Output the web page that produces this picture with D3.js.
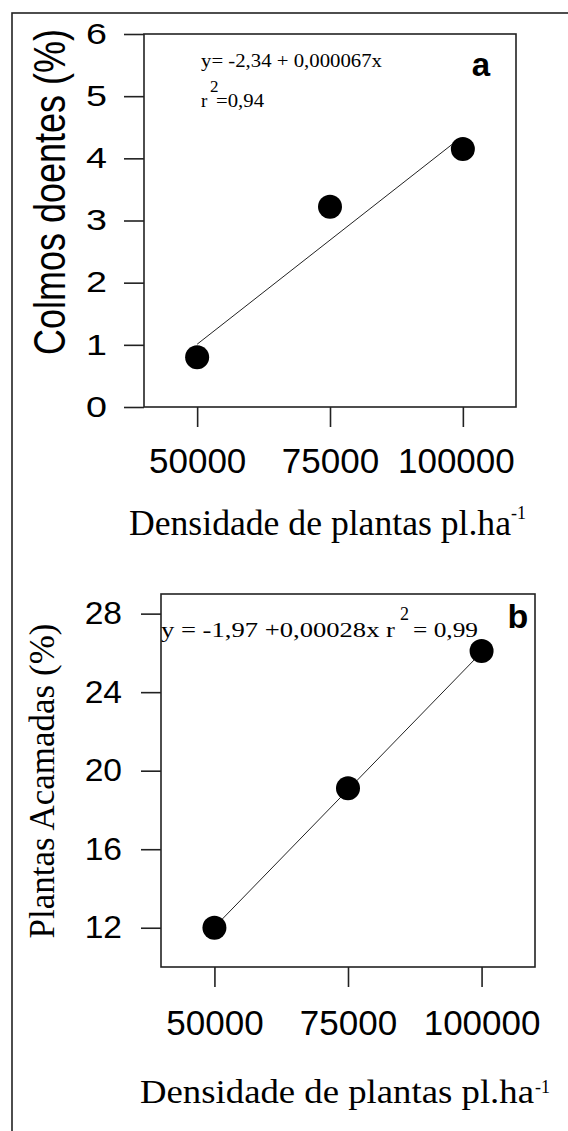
<!DOCTYPE html>
<html>
<head>
<meta charset="utf-8">
<script src="https://cdn.jsdelivr.net/npm/d3@7"></script>
<style>
  html, body { margin: 0; padding: 0; background: #fff; }
  svg { display: block; }
</style>
</head>
<body>
<script>
// ---------- data ----------
const densidade = [50000, 75000, 100000];
const colmosDoentes = [0.80, 3.22, 4.15];
const plantasAcamadas = [12.0, 19.1, 26.1];
const xTickValues = [50000, 75000, 100000];
const yTicksA = [0, 1, 2, 3, 4, 5, 6];
const yTicksB = [12, 16, 20, 24, 28];
const fitA = [-2.34, 0.000067];     // intercept, slope
const fitRangeA = [50000, 98000];
const fitB = [-1.97, 0.00028];
const fitRangeB = [50000, 100000];
const xDomain = [40000, 110000];
const yDomainA = [0, 6];
const yDomainB = [10, 29];

const W = 568, H = 1131;
const svg = d3.select("body").append("svg").attr("width", W).attr("height", H);
svg.append("rect").attr("width", W).attr("height", H).attr("fill", "#fff");

// outer frame
svg.append("rect").attr("x", 12).attr("y", 13).attr("width", 580).attr("height", 1200)
  .attr("fill", "none").attr("stroke", "#222").attr("stroke-width", 1.6);

const SANS = "'Liberation Sans', Arial, sans-serif";
const SERIF = "'Liberation Serif', 'Times New Roman', serif";

function panel(opt) {
  const x = d3.scaleLinear().domain(xDomain).range([opt.left, opt.right]);
  const y = d3.scaleLinear().domain(opt.yDomain).range([opt.bottom, opt.top]);
  const g = svg.append("g");

  // y axis
  const ya = g.append("g").attr("transform", `translate(${opt.left},0)`)
    .call(d3.axisLeft(y).tickValues(opt.yTicks).tickSize(20).tickPadding(opt.yPad).tickFormat(d3.format("d")));
  ya.select(".domain").remove();
  ya.selectAll(".tick line").attr("stroke", "#222").attr("stroke-width", 1.6);
  const sx = opt.yStretch;
  ya.selectAll(".tick text").attr("font-family", SANS).attr("font-size", opt.yFont).attr("fill", "#000")
    .attr("x", -(20 + opt.yPad) / sx).attr("transform", `scale(${sx},1)`);

  // x axis
  const xa = g.append("g").attr("transform", `translate(0,${opt.bottom})`)
    .call(d3.axisBottom(x).tickValues(xTickValues).tickSize(20).tickPadding(opt.xPad).tickFormat(d3.format("d")));
  xa.select(".domain").remove();
  xa.selectAll(".tick line").attr("stroke", "#222").attr("stroke-width", 1.6);
  xa.selectAll(".tick text").attr("font-family", SANS).attr("font-size", opt.xFont).attr("fill", "#000")
    .attr("dx", (d, i) => i === 2 ? opt.lastDx : 0);

  // box
  g.append("rect").attr("x", opt.left).attr("y", opt.top)
    .attr("width", opt.right - opt.left).attr("height", opt.bottom - opt.top)
    .attr("fill", "none").attr("stroke", "#222").attr("stroke-width", 1.6);

  // regression line
  const line = d3.line().x(d => x(d)).y(d => y(opt.fit[0] + opt.fit[1] * d));
  g.append("path").datum(opt.fitRange).attr("d", line)
    .attr("fill", "none").attr("stroke", "#222").attr("stroke-width", 1);

  // points
  g.selectAll("circle.pt").data(densidade).join("circle")
    .attr("cx", d => x(d)).attr("cy", (d, i) => y(opt.values[i])).attr("r", 12).attr("fill", "#000");
  return g;
}

// ---------- panel a ----------
const ga = panel({
  left: 144, right: 516, top: 34, bottom: 407,
  yDomain: yDomainA, yTicks: yTicksA, fit: fitA, fitRange: fitRangeA, values: colmosDoentes,
  yFont: 29, yPad: 17, yStretch: 1.3, xFont: 35, xPad: 21, lastDx: -7
});
ga.append("text").attr("transform", "translate(65,192) scale(1.22,1) rotate(-90)")
  .attr("text-anchor", "middle").attr("font-family", SANS).attr("font-size", 36)
  .text("Colmos doentes (%)");
ga.append("text").attr("x", 201).attr("y", 67).attr("font-family", SERIF).attr("font-size", 19)
  .attr("textLength", 181).attr("lengthAdjust", "spacingAndGlyphs").text("y= -2,34 + 0,000067x");
ga.append("text").attr("x", 201).attr("y", 107).attr("font-family", SERIF).attr("font-size", 19).text("r");
ga.append("text").attr("x", 210).attr("y", 92).attr("font-family", SERIF).attr("font-size", 17).text("2");
ga.append("text").attr("x", 216).attr("y", 107).attr("font-family", SERIF).attr("font-size", 19)
  .attr("textLength", 48).attr("lengthAdjust", "spacingAndGlyphs").text("=0,94");
ga.append("text").attr("x", 481).attr("y", 76).attr("text-anchor", "middle")
  .attr("font-family", SANS).attr("font-weight", "bold").attr("font-size", 33).text("a");
ga.append("text").attr("x", 129).attr("y", 535).attr("font-family", SERIF).attr("font-size", 35)
  .attr("textLength", 382).attr("lengthAdjust", "spacingAndGlyphs").text("Densidade de plantas pl.ha");
ga.append("text").attr("x", 511).attr("y", 519).attr("font-family", SERIF).attr("font-size", 18).text("-1");

// ---------- panel b ----------
const gb = panel({
  left: 161, right: 535, top: 594, bottom: 967,
  yDomain: yDomainB, yTicks: yTicksB, fit: fitB, fitRange: fitRangeB, values: plantasAcamadas,
  yFont: 32, yPad: 19, yStretch: 1.05, xFont: 35, xPad: 23, lastDx: 0
});
gb.append("text").attr("transform", "translate(54,781) rotate(-90)")
  .attr("text-anchor", "middle").attr("font-family", SERIF).attr("font-size", 35)
  .text("Plantas Acamadas (%)");
gb.append("text").attr("x", 161).attr("y", 637).attr("font-family", SERIF).attr("font-size", 20)
  .attr("textLength", 234).attr("lengthAdjust", "spacingAndGlyphs").text("y = -1,97 +0,00028x r");
gb.append("text").attr("x", 400).attr("y", 620).attr("font-family", SERIF).attr("font-size", 18).text("2");
gb.append("text").attr("x", 413).attr("y", 637).attr("font-family", SERIF).attr("font-size", 20)
  .attr("textLength", 65).attr("lengthAdjust", "spacingAndGlyphs").text("= 0,99");
gb.append("text").attr("x", 518).attr("y", 628).attr("text-anchor", "middle")
  .attr("font-family", SANS).attr("font-weight", "bold").attr("font-size", 34).text("b");
gb.append("text").attr("x", 140).attr("y", 1103).attr("font-family", SERIF).attr("font-size", 34)
  .attr("textLength", 394).attr("lengthAdjust", "spacingAndGlyphs").text("Densidade de plantas  pl.ha");
gb.append("text").attr("x", 535).attr("y", 1093).attr("font-family", SERIF).attr("font-size", 18).text("-1");
</script>
</body>
</html>
